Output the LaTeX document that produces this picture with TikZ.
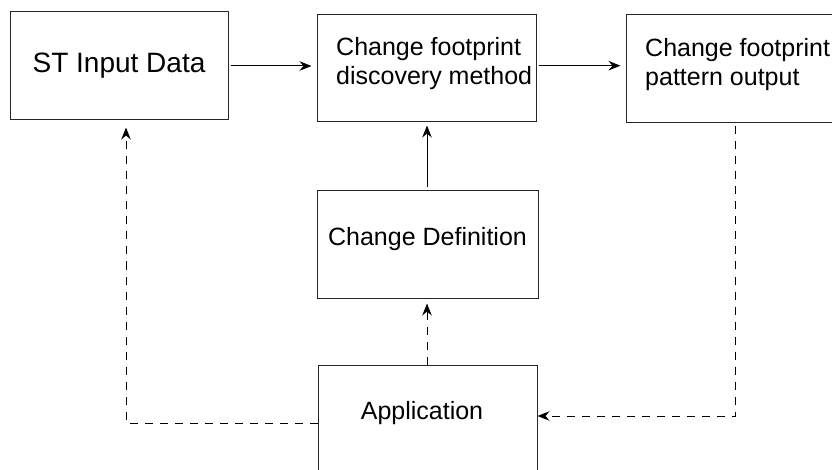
\documentclass[tikz,border=0pt]{standalone}
\usepackage{fontspec}
\setmainfont{Liberation Sans}
\usetikzlibrary{arrows.meta}
\begin{document}
\begin{tikzpicture}[x=1pt,y=-1pt,
  box/.style={draw=black!85,line width=1pt,minimum width=219pt,minimum height=107pt,inner sep=0pt,anchor=center},
  txt/.style={inner sep=0pt,font=\fontsize{25}{29}\selectfont},
  conn/.style={line width=1pt,-{Stealth[length=12pt,width=9.5pt,inset=4pt]}},
  dconn/.style={conn,dash pattern=on 8pt off 7pt}]
\useasboundingbox (0,0) rectangle (832,470);
\clip (0,0) rectangle (832,470);
% boxes
\node[box,minimum width=218pt,minimum height=108pt,font=\fontsize{28}{32}\selectfont] (st) at (119,66) {ST Input Data};
\node[box] (disc) at (426.5,68.5) {};
\node[box,minimum height=108pt] (pat) at (735.5,69) {};
\node[box,minimum width=221pt] (def) at (427.5,244.5) {};
\node[box] (app) at (427.5,418.5) {};
% texts
\node[txt,align=left,anchor=west] (disct) at (336,64) {Change footprint\\discovery method};
\node[txt,align=left,anchor=west] (patt) at (645,64.5) {Change footprint\\pattern output};
\node[txt] (deft) at (427.5,239.5) {Change Definition};
\node[txt] (appt) at (422,412.8) {Application};
% connectors
\coordinate (c1) at (126,423);
\coordinate (c2) at (735.5,416);
\draw[conn,shorten <=2pt,shorten >=5pt] (st.east |- 0,66) -- (disc.west |- 0,66);
\draw[conn,shorten <=2pt,shorten >=5pt] (disc.east |- 0,65.7) -- (pat.west |- 0,65.7);
\draw[conn,shorten <=3pt,shorten >=3pt] (def.north -| 427,0) -- (disc.south -| 427,0);
\draw[dconn,shorten >=5pt] (app.north -| 427,0) -- (def.south -| 427,0);
\draw[dconn,shorten >=7pt] (app.west |- c1) -- (c1) -- (st.south -| c1);
\draw[dconn,shorten <=3pt] (pat.south) -- (c2) -- (app.east |- c2);
\end{tikzpicture}
\end{document}
